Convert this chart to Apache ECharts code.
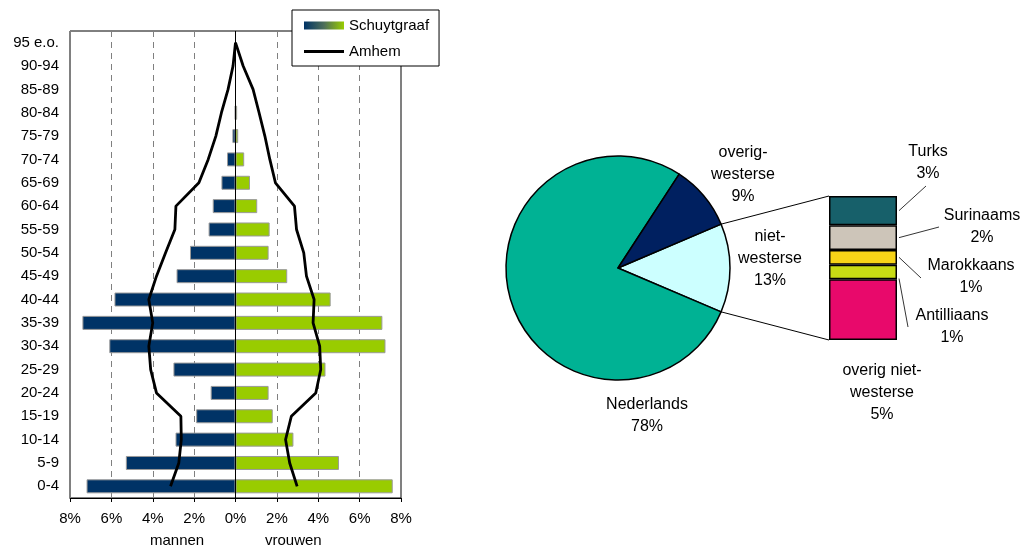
<!DOCTYPE html>
<html>
<head>
<meta charset="utf-8">
<script src="https://cdn.jsdelivr.net/npm/echarts@6/dist/echarts.min.js"></script>
<style>
  html, body { margin: 0; padding: 0; background: #fff; }
  #chart { width: 1022px; height: 546px; }
</style>
</head>
<body>
<div id="chart"></div>
<script>
// leeftijdsopbouw Schuytgraaf vs Arnhem (% van totaal)
const ageGroups = ['0-4', '5-9', '10-14', '15-19', '20-24', '25-29', '30-34', '35-39', '40-44', '45-49',
  '50-54', '55-59', '60-64', '65-69', '70-74', '75-79', '80-84', '85-89', '90-94', '95 e.o.'];
const mannen = [7.2, 5.3, 2.9, 1.9, 1.2, 3.0, 6.1, 7.4, 5.85, 2.85, 2.2, 1.3, 1.1, 0.68, 0.41, 0.15, 0.03, 0, 0, 0];
const vrouwen = [7.6, 5.0, 2.8, 1.8, 1.6, 4.35, 7.25, 7.1, 4.6, 2.5, 1.6, 1.65, 1.05, 0.7, 0.42, 0.13, 0.08, 0, 0, 0];
const arnhemMannen = [3.14, 2.74, 2.62, 2.64, 3.82, 4.1, 4.19, 4.0, 4.19, 3.82, 3.38, 2.93, 2.88, 1.77, 1.32, 0.95, 0.68, 0.36, 0.12, 0];
const arnhemVrouwen = [2.98, 2.62, 2.42, 2.7, 3.88, 4.12, 4.07, 3.75, 3.8, 3.43, 3.3, 2.95, 2.85, 1.93, 1.66, 1.42, 1.14, 0.85, 0.37, 0];
const xTicks = [-8, -6, -4, -2, 0, 2, 4, 6, 8];

// herkomst
const pieNames = ['niet-\nwesterse', 'Nederlands', 'overig-\nwesterse'];
const pieValues = [12.8, 77.8, 9.4];
const subNames = ['overig niet-\nwesterse', 'Antilliaans', 'Marokkaans', 'Surinaams', 'Turks'];
const subValues = [5.4, 1.3, 1.3, 2.2, 2.6];

const navy = '#003366';
const green = '#99cc00';
const pieColors = ['#ccffff', '#00b294', '#002060'];
const subColors = ['#e8096b', '#c8dc14', '#f7d417', '#cdc5b9', '#17606a'];
const font = 'Liberation Sans, Arial, sans-serif';

// layout
const pieCenter = [618, 268];
const pieRadius = 112;
const subBox = { left: 829, top: 196, width: 68, height: 144 };

const pieLabelSpots = {
  'niet-\nwesterse': [770, 259],
  'Nederlands': [647, 416],
  'overig-\nwesterse': [743, 175]
};
// label centre, leader line end, where on the segment the line starts (0 top .. 1 bottom)
const subLabelSpots = {
  'Turks': { x: 928, y: 163, line: [926, 186], at: 0.5 },
  'Surinaams': { x: 982, y: 227, line: [939, 227], at: 0.5 },
  'Marokkaans': { x: 971, y: 277, line: [921, 278], at: 0.5 },
  'Antilliaans': { x: 952, y: 327, line: [908, 327], at: 0.95 },
  'overig niet-\nwesterse': { x: 882, y: 393 }
};

const nietShare = pieValues[0] / pieValues.reduce((a, b) => a + b, 0);
const startAngle = nietShare * 180;
const rad = startAngle * Math.PI / 180;
const edgeTop = [pieCenter[0] + pieRadius * Math.cos(rad), pieCenter[1] - pieRadius * Math.sin(rad)];
const edgeBottom = [pieCenter[0] + pieRadius * Math.cos(rad), pieCenter[1] + pieRadius * Math.sin(rad)];

// leader lines of the stacked column, from segment geometry
const subTotal = subValues.reduce((a, b) => a + b, 0);
const leaderLines = [];
let cum = 0;
subNames.forEach((name, i) => {
  const yBottom = subBox.top + subBox.height * (1 - cum / subTotal);
  cum += subValues[i];
  const yTop = subBox.top + subBox.height * (1 - cum / subTotal);
  const spot = subLabelSpots[name];
  if (spot.line) {
    const sy = yTop + (yBottom - yTop) * spot.at;
    leaderLines.push({
      type: 'line',
      z: 10,
      shape: { x1: subBox.left + subBox.width + 2, y1: sy, x2: spot.line[0], y2: spot.line[1] },
      style: { stroke: '#000', lineWidth: 0.8 }
    });
  }
});

const chart = echarts.init(document.getElementById('chart'));

const subSeries = subNames.map((name, i) => ({
  name: name,
  type: 'bar',
  stack: 'sub',
  xAxisIndex: 1,
  yAxisIndex: 1,
  barWidth: '100%',
  data: [subValues[i]],
  itemStyle: { color: subColors[i], borderColor: '#000', borderWidth: 1.5 },
  label: {
    show: true,
    formatter: p => name + '\n' + Math.round(p.value) + '%',
    color: '#000',
    fontFamily: font,
    fontSize: 16,
    lineHeight: 22,
    align: 'center'
  },
  labelLayout: function () {
    const spot = subLabelSpots[name];
    return { x: spot.x, y: spot.y, align: 'center', verticalAlign: 'middle' };
  }
}));

const option = {
  animation: false,
  textStyle: { fontFamily: font },
  legend: {
    left: 292,
    top: 10,
    orient: 'vertical',
    backgroundColor: '#fff',
    borderColor: '#000',
    borderWidth: 1,
    padding: [8, 10, 7, 12],
    itemGap: 11,
    itemWidth: 40,
    itemHeight: 8,
    textStyle: { fontSize: 15, color: '#000', fontFamily: font },
    data: [
      {
        name: 'Schuytgraaf',
        icon: 'rect',
        itemStyle: {
          color: new echarts.graphic.LinearGradient(0, 0, 1, 0, [
            { offset: 0, color: navy }, { offset: 0.5, color: '#4d6f5a' }, { offset: 1, color: green }
          ]),
          borderWidth: 0
        }
      },
      {
        name: 'Amhem',
        icon: 'path://M0,0 L40,0 L40,3 L0,3 Z',
        symbolKeepAspect: true,
        itemStyle: { color: '#000', borderWidth: 0 }
      }
    ]
  },
  grid: [
    { left: 70, top: 31, width: 331, height: 467, show: true, borderColor: '#000', borderWidth: 1 },
    { left: subBox.left, top: subBox.top, width: subBox.width, height: subBox.height }
  ],
  xAxis: [
    {
      type: 'value',
      min: -8, max: 8, interval: 2,
      axisLine: { show: true, lineStyle: { color: '#000' } },
      axisTick: { show: true, length: 4, lineStyle: { color: '#000' } },
      axisLabel: {
        color: '#000', fontSize: 15, margin: 13,
        formatter: v => xTicks.includes(v) ? Math.abs(v) + '%' : ''
      },
      splitLine: { show: true, lineStyle: { color: '#808080', type: [6, 5], width: 1 } }
    },
    { type: 'category', gridIndex: 1, data: ['niet-westers'], show: false }
  ],
  yAxis: [
    {
      type: 'category',
      data: ageGroups,
      axisLine: { show: false },
      axisTick: { show: false },
      axisLabel: { color: '#000', fontSize: 15, margin: 11 }
    },
    { type: 'value', gridIndex: 1, min: 0, max: subTotal, show: false }
  ],
  series: [
    {
      name: 'Schuytgraaf',
      type: 'bar',
      data: mannen.map(v => -v),
      barGap: '-100%',
      barCategoryGap: '40%',
      itemStyle: { color: navy, borderColor: '#9a9a9a', borderWidth: 1 },
      markLine: {
        silent: true,
        symbol: 'none',
        label: { show: false },
        lineStyle: { color: '#000', type: 'solid', width: 1 },
        data: [{ xAxis: 0 }]
      }
    },
    {
      name: 'Schuytgraaf',
      type: 'bar',
      data: vrouwen,
      barGap: '-100%',
      barCategoryGap: '40%',
      itemStyle: { color: green, borderColor: '#9a9a9a', borderWidth: 1 }
    },
    {
      name: 'Amhem',
      type: 'line',
      symbol: 'none',
      data: arnhemMannen.map((v, i) => [-v, ageGroups[i]]),
      lineStyle: { color: '#000', width: 2.8 },
      itemStyle: { color: '#000' },
      z: 5
    },
    {
      name: 'Amhem',
      type: 'line',
      symbol: 'none',
      data: arnhemVrouwen.map((v, i) => [v, ageGroups[i]]),
      lineStyle: { color: '#000', width: 2.8 },
      itemStyle: { color: '#000' },
      z: 5
    },
    {
      name: 'herkomst',
      type: 'pie',
      center: pieCenter,
      radius: pieRadius,
      startAngle: startAngle,
      clockwise: true,
      data: pieNames.map((n, i) => ({ name: n, value: pieValues[i], itemStyle: { color: pieColors[i] } })),
      itemStyle: { borderColor: '#000', borderWidth: 1.5 },
      label: {
        show: true,
        formatter: p => p.name + '\n' + Math.round(p.value) + '%',
        color: '#000',
        fontFamily: font,
        fontSize: 16,
        lineHeight: 22,
        align: 'center'
      },
      labelLine: { show: false },
      labelLayout: function (params) {
        const s = pieLabelSpots[pieNames[params.dataIndex]];
        return { x: s[0], y: s[1], align: 'center', verticalAlign: 'middle' };
      }
    }
  ].concat(subSeries),
  graphic: [
    { type: 'text', left: 176 - 26, top: 533, style: { text: 'mannen', fontSize: 15, fill: '#000', fontFamily: font } },
    { type: 'text', left: 294 - 29, top: 533, style: { text: 'vrouwen', fontSize: 15, fill: '#000', fontFamily: font } },
    {
      type: 'line',
      shape: { x1: edgeTop[0], y1: edgeTop[1], x2: subBox.left, y2: subBox.top },
      style: { stroke: '#000', lineWidth: 1 }
    },
    {
      type: 'line',
      shape: { x1: edgeBottom[0], y1: edgeBottom[1], x2: subBox.left, y2: subBox.top + subBox.height },
      style: { stroke: '#000', lineWidth: 1 }
    }
  ].concat(leaderLines)
};

chart.setOption(option);
</script>
</body>
</html>
